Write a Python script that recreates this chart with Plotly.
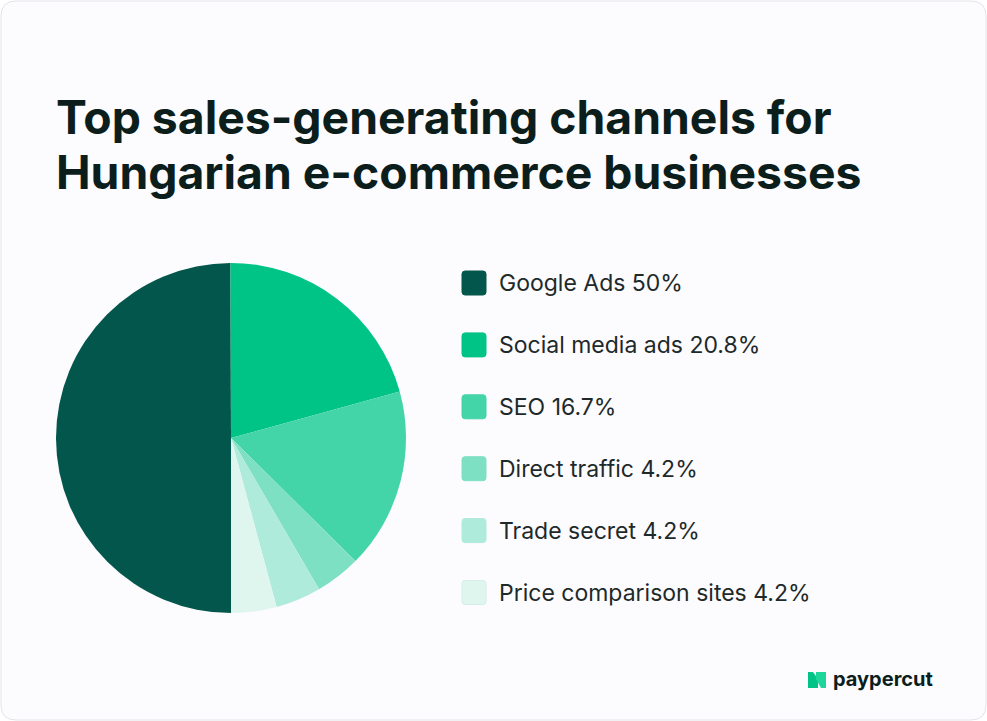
import plotly.graph_objects as go

W, H = 987, 721

labels = ["Google Ads", "Social media ads", "SEO", "Direct traffic", "Trade secret", "Price comparison sites"]
values = [50, 20.8, 16.7, 4.2, 4.2, 4.2]
colors = ["#02564B", "#00C486", "#43D4A7", "#7EE0C3", "#AFEBDB", "#DFF6EF"]

title_lines = ["Top sales-generating channels for", "Hungarian e-commerce businesses"]


def px(x):
    return x / W


def py(y):
    return 1 - y / H


def rounded_rect(x0, y0, x1, y1, r):
    return ("M {a},{t} L {b},{t} Q {R},{t} {R},{t2} L {R},{b2} Q {R},{B} {b},{B} "
            "L {a},{B} Q {L},{B} {L},{b2} L {L},{t2} Q {L},{t} {a},{t} Z").format(
        a=px(x0 + r), b=px(x1 - r), L=px(x0), R=px(x1),
        t=py(y0), t2=py(y0 + r), b2=py(y1 - r), B=py(y1))


fig = go.Figure()
fig.add_trace(go.Pie(
    labels=labels,
    values=values,
    sort=False,
    direction="clockwise",
    rotation=180,
    marker=dict(colors=colors, line=dict(width=0)),
    textinfo="none",
    hoverinfo="label+percent",
    showlegend=False,
    domain=dict(x=[px(56), px(406)], y=[py(613), py(263)]),
))

shapes = []
# card background
shapes.append(dict(
    type="path", xref="paper", yref="paper", layer="below",
    path=rounded_rect(1, 1, 986, 720, 15),
    fillcolor="#FCFBFE", line=dict(color="#E4E3E8", width=1),
))

annotations = []
# title
for i, line in enumerate(title_lines):
    annotations.append(dict(
        text="<b>%s</b>" % line, x=px(54), y=py(117 + i * 55),
        xref="paper", yref="paper", xanchor="left", yanchor="middle",
        showarrow=False, font=dict(family="Inter", size=46.3, color="#0B1E1C"),
    ))

# legend
y0, dy = 283, 61.9
for i, (lab, val, col) in enumerate(zip(labels, values, colors)):
    cy = y0 + i * dy
    shapes.append(dict(
        type="path", xref="paper", yref="paper",
        path=rounded_rect(462, cy - 12, 486, cy + 12, 3),
        fillcolor=col, line=dict(color="#D5EEE6" if i == 5 else col, width=1),
    ))
    vtxt = ("%g" % val)
    annotations.append(dict(
        text="%s %s%%" % (lab, vtxt), x=px(497), y=py(cy),
        xref="paper", yref="paper", xanchor="left", yanchor="middle",
        showarrow=False, font=dict(family="Inter", size=23, color="#1E2A2A"),
    ))

# logo
shapes.append(dict(
    type="path", xref="paper", yref="paper",
    path="M {a},{t} L {b},{t} L {c},{m} L {c},{bt} L {a},{bt} Z".format(
        a=px(808), b=px(813), c=px(818), t=py(672), m=py(679), bt=py(688)),
    fillcolor="#00C486", line=dict(width=0),
))
shapes.append(dict(
    type="path", xref="paper", yref="paper",
    path="M {a},{t} L {b},{t} L {b},{bt} L {c},{bt} L {a},{m} Z".format(
        a=px(816), b=px(826), c=px(821), t=py(672), m=py(679), bt=py(688)),
    fillcolor="#1FD69A", line=dict(width=0),
))
annotations.append(dict(
    text="<b>paypercut</b>", x=px(831), y=py(679),
    xref="paper", yref="paper", xanchor="left", yanchor="middle",
    showarrow=False, font=dict(family="Inter", size=20, color="#0B1E1C"),
))

fig.update_layout(
    width=W, height=H,
    margin=dict(l=0, r=0, t=0, b=0),
    paper_bgcolor="#FFFFFF",
    plot_bgcolor="#FFFFFF",
    shapes=shapes,
    annotations=annotations,
)

fig.write_html("out.html", config={"displayModeBar": False},
               post_script="document.body.style.margin='0';document.body.style.padding='0';")
